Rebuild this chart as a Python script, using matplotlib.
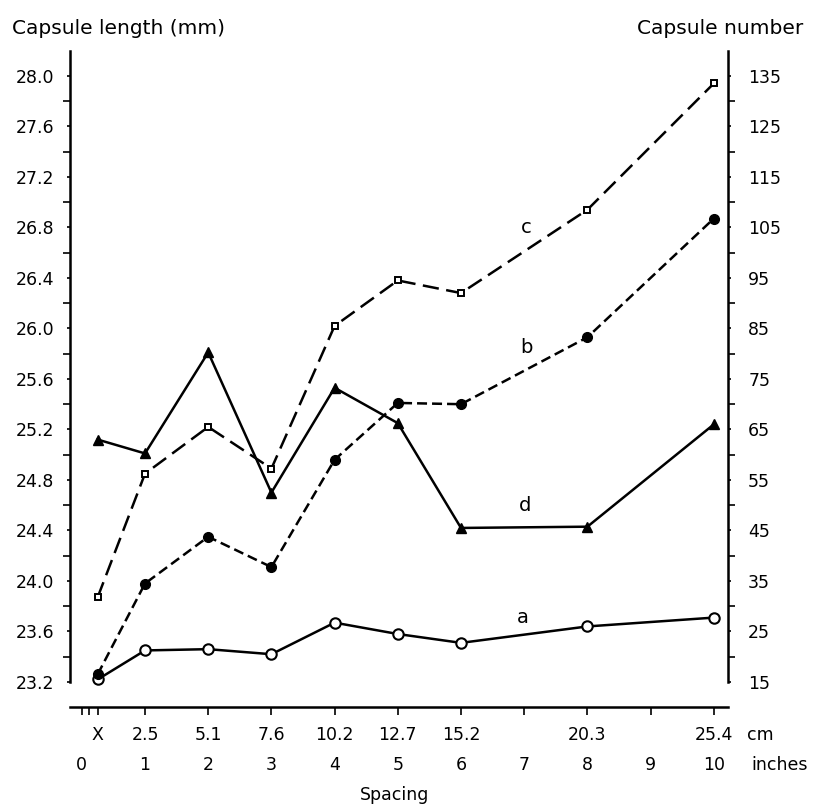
import matplotlib
matplotlib.use("Agg")
import matplotlib.pyplot as plt
import matplotlib.transforms as mtransforms
import numpy as np

# spacing positions in inches ("X" plotted at 0.25)
spacing_in = [0.25, 1, 2, 3, 4, 5, 6, 8, 10]

# values read on the left (mm) scale
series_a = [23.22, 23.45, 23.46, 23.42, 23.67, 23.58, 23.51, 23.64, 23.71]
series_b = [23.26, 23.98, 24.35, 24.11, 24.96, 25.41, 25.40, 25.93, 26.87]
series_c = [23.87, 24.85, 25.22, 24.89, 26.02, 26.38, 26.28, 26.94, 27.94]
series_d = [25.12, 25.01, 25.81, 24.70, 25.53, 25.25, 24.42, 24.43, 25.24]

# curve label positions (inches, mm)
curve_labels = {"a": (6.98, 23.71), "b": (7.03, 25.85), "c": (7.03, 26.80), "d": (7.01, 24.60)}

length_ticks = [23.2, 23.6, 24.0, 24.4, 24.8, 25.2, 25.6, 26.0, 26.4, 26.8, 27.2, 27.6, 28.0]
length_labels = ["23.2", "23.6", "24.0", "24.4", "24.8", "25.2", "25.6", "26.0",
                 "26.4", "26.8", "27.2", "27.6", "28.0"]
number_ticks = [15, 25, 35, 45, 55, 65, 75, 85, 95, 105, 115, 125, 135]

cm_pos = [0.25, 1, 2, 3, 4, 5, 6, 8, 10]
cm_labels = ["X", "2.5", "5.1", "7.6", "10.2", "12.7", "15.2", "20.3", "25.4"]
inch_pos = [0, 1, 2, 3, 4, 5, 6, 7, 8, 9, 10]
inch_labels = ["0", "1", "2", "3", "4", "5", "6", "7", "8", "9", "10"]
xtick_pos = [0, 0.12, 0.25, 1, 2, 3, 4, 5, 6, 7, 8, 9, 10]

W, H = 813, 809
fig = plt.figure(figsize=(W / 100, H / 100), dpi=100)
left_px, right_px, top_px, bot_px = 70, 728, 50, 707
ax = fig.add_axes([left_px / W, 1 - bot_px / H, (right_px - left_px) / W, (bot_px - top_px) / H])

ylo, yhi = 23.002, 28.205
ax.set_xlim(-0.187, 10.225)
ax.set_ylim(ylo, yhi)

lw = 1.8
ax.plot(spacing_in, series_a, color="black", lw=lw, marker="o", ms=7.5,
        mfc="white", mec="black", mew=1.5, zorder=3)
ax.plot(spacing_in, series_b, color="black", lw=lw, dashes=(4.0, 2.0), marker="o",
        ms=7, mfc="black", mec="black", zorder=3)
ax.plot(spacing_in, series_c, color="black", lw=lw, dashes=(6.5, 3.0), marker="s",
        ms=5, mfc="white", mec="black", mew=1.4, zorder=3)
ax.plot(spacing_in, series_d, color="black", lw=lw, marker="^", ms=7.5,
        mfc="black", mec="black", zorder=3)

for name, (lx, ly) in curve_labels.items():
    ax.text(lx, ly, name, fontsize=14, ha="center", va="center")

# spines
for s in ["top", "right"]:
    ax.spines[s].set_visible(False)
ax.spines["left"].set_bounds(23.2, 28.2)
ax.spines["left"].set_linewidth(1.8)
ax.spines["bottom"].set_linewidth(1.8)

ax.set_yticks(length_ticks)
ax.set_yticklabels(length_labels)
ax.set_yticks(np.arange(23.4, 28.0, 0.4), minor=True)
ax.tick_params(axis="y", which="major", direction="out", length=2.5, width=1.2,
               labelsize=12.5, pad=9)
ax.tick_params(axis="y", which="minor", direction="out", length=5, width=1.2)

ax.set_xticks(xtick_pos)
ax.set_xticklabels([])
ax.tick_params(axis="x", which="major", direction="out", length=6, width=1.2)

# right axis: capsule number
ax2 = ax.twinx()
ax2.set_ylim(15 + (ylo - 23.2) * 25, 15 + (yhi - 23.2) * 25)
for s in ["top", "left", "bottom"]:
    ax2.spines[s].set_visible(False)
ax2.spines["right"].set_bounds(15, 140)
ax2.spines["right"].set_linewidth(1.8)
ax2.set_yticks(number_ticks)
ax2.set_yticks(np.arange(20, 135, 10), minor=True)
ax2.tick_params(axis="y", which="major", direction="out", length=2.5, width=1.2,
                labelsize=12.5, pad=12)
ax2.tick_params(axis="y", which="minor", direction="out", length=5, width=1.2)

# two rows of spacing labels
trans = mtransforms.blended_transform_factory(ax.transData, fig.transFigure)
for p, lab in zip(cm_pos, cm_labels):
    ax.text(p, 1 - 735 / H, lab, transform=trans, ha="center", va="center", fontsize=12.5)
for p, lab in zip(inch_pos, inch_labels):
    ax.text(p, 1 - 765 / H, lab, transform=trans, ha="center", va="center", fontsize=12.5)
fig.text(760 / W, 1 - 735 / H, "cm", ha="center", va="center", fontsize=12.5)
fig.text(780 / W, 1 - 765 / H, "inches", ha="center", va="center", fontsize=12.5)
fig.text(395 / W, 1 - 795 / H, "Spacing", ha="center", va="center", fontsize=12.5)

fig.text(12 / W, 1 - 28 / H, "Capsule length (mm)", ha="left", va="center", fontsize=14.5)
fig.text(803 / W, 1 - 28 / H, "Capsule number", ha="right", va="center", fontsize=14.5)

fig.savefig("out.png", dpi=100)
